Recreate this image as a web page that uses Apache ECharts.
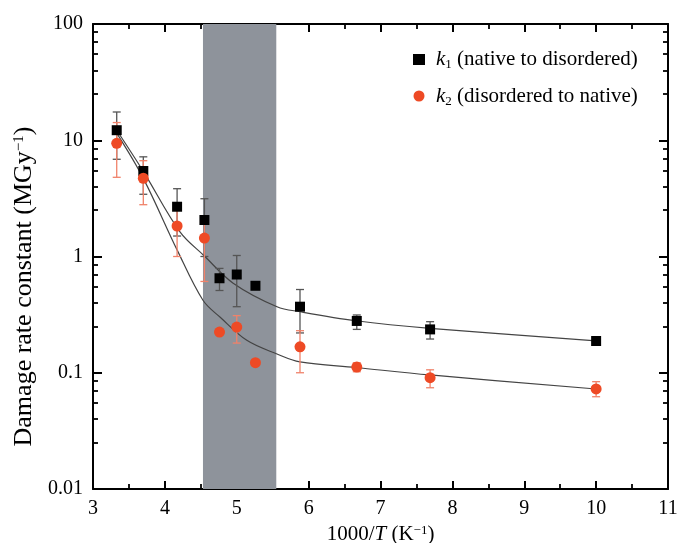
<!DOCTYPE html>
<html>
<head>
<meta charset="utf-8">
<script src="https://cdn.jsdelivr.net/npm/echarts@6.0.0/dist/echarts.min.js"></script>
<style>
html, body { margin: 0; padding: 0; background: #fff; }
#chart { width: 680px; height: 543px; }
</style>
</head>
<body>
<div id="chart"></div>
<script>
// tick labels
const xTicks = ['3', '4', '5', '6', '7', '8', '9', '10', '11'];
const yTicks = ['0.01', '0.1', '1', '10', '100'];

// 1000/T values of the measurements
const tempX = [3.33, 3.70, 4.17, 4.55, 4.76, 5.00, 5.26, 5.88, 6.67, 7.69, 10.0];

// k1 (native to disordered)
const k1Val = [12.2, 5.44, 2.68, 2.06, 0.65, 0.70, 0.56, 0.37, 0.279, 0.236, 0.1875];
const k1Low = [6.86, 3.43, 1.5, 1.0, 0.51, 0.37, null, 0.22, 0.236, 0.195, null];
const k1High = [17.5, 7.2, 3.83, 3.14, 0.79, 1.02, null, 0.52, 0.314, 0.275, null];

// k2 (disordered to native)
const k2Val = [9.41, 4.71, 1.83, 1.44, 0.224, 0.247, 0.122, 0.167, 0.112, 0.0907, 0.0725];
const k2Low = [4.8, 2.79, 1.0, 0.61, null, 0.18, null, 0.10, 0.102, 0.0743, 0.0622];
const k2High = [14.2, 6.67, 2.7, 2.1, null, 0.31, null, 0.23, 0.122, 0.106, 0.0838];

// fitted curves
const fit1X = [3.33, 3.70, 4.21, 4.55, 4.95, 5.56, 5.88, 6.66, 7.69, 10.0];
const fit1Y = [12.2, 5.4, 1.63, 1.01, 0.59, 0.37, 0.335, 0.28, 0.241, 0.188];
const fit2X = [3.33, 3.70, 4.17, 4.53, 4.77, 5.14, 5.56, 5.88, 6.66, 7.69, 10.0];
const fit2Y = [11.5, 4.7, 1.14, 0.42, 0.30, 0.19, 0.145, 0.124, 0.111, 0.0957, 0.0725];

// shaded transition region
const bandX = [4.53, 5.55];

const serif = 'Liberation Serif';
const red = '#ee4a25';

let chart = echarts.init(document.getElementById('chart'));

const zip = (xs, ys) => xs.map((x, i) => [x, ys[i]]);
const bars = (lo, hi) => tempX.map((x, i) => [x, lo[i], hi[i]]).filter(d => d[1] != null);

function errorBar(color) {
    return (params, api) => {
        const x = api.value(0);
        const lo = api.coord([x, api.value(1)]);
        const hi = api.coord([x, api.value(2)]);
        const w = 4;
        const st = { stroke: color, lineWidth: 1.3 };
        return {
            type: 'group',
            children: [
                { type: 'line', shape: { x1: lo[0], y1: lo[1], x2: hi[0], y2: hi[1] }, style: st },
                { type: 'line', shape: { x1: hi[0] - w, y1: hi[1], x2: hi[0] + w, y2: hi[1] }, style: st },
                { type: 'line', shape: { x1: lo[0] - w, y1: lo[1], x2: lo[0] + w, y2: lo[1] }, style: st }
            ]
        };
    };
}

const yLabel = v => yTicks.find(t => Math.abs(Math.log10(+t) - Math.log10(v)) < 1e-6) || '';

const xBase = {
    type: 'value', min: 3, max: 11, interval: 1,
    axisLine: { lineStyle: { color: '#000', width: 2 } },
    axisTick: { inside: true, length: 8, lineStyle: { color: '#000', width: 2 } },
    minorTick: { show: true, splitNumber: 2, length: 5, lineStyle: { color: '#000', width: 1.8 } },
    splitLine: { show: false }
};
const yBase = {
    type: 'log', logBase: 10, min: 0.01, max: 100,
    axisLine: { lineStyle: { color: '#000', width: 2 } },
    axisTick: { inside: true, length: 9, lineStyle: { color: '#000', width: 2 } },
    minorTick: { show: true, splitNumber: 6, length: 5, lineStyle: { color: '#000', width: 1.8 } },
    splitLine: { show: false }
};

let option = {
    animation: false,
    backgroundColor: '#fff',
    grid: { left: 93, right: 12, top: 24, bottom: 54, containLabel: false, outerBoundsMode: 'none' },
    legend: {
        orient: 'vertical',
        left: 408, top: 44,
        itemGap: 14,
        itemWidth: 12, itemHeight: 11,
        data: ['k1', 'k2'],
        formatter: name => name === 'k1'
            ? '{i|k}{s|1} (native to disordered)'
            : '{i|k}{s|2} (disordered to native)',
        textStyle: {
            fontFamily: serif, fontSize: 21, color: '#000', padding: [0, 0, 0, 6],
            rich: {
                i: { fontFamily: serif, fontStyle: 'italic', fontSize: 21, color: '#000', lineHeight: 24 },
                s: { fontFamily: serif, fontSize: 13, color: '#000', verticalAlign: 'bottom', lineHeight: 15 }
            }
        }
    },
    xAxis: [
        Object.assign({}, xBase, {
            position: 'bottom',
            axisLabel: {
                fontFamily: serif, fontSize: 20, color: '#000', margin: 10,
                formatter: v => xTicks[Math.round(v - 3)] || ''
            },
            name: '1000/{i|T} (K{sup|\u22121})',
            nameLocation: 'middle', nameGap: 33,
            nameTextStyle: {
                fontFamily: serif, fontSize: 21, color: '#000',
                rich: {
                    i: { fontFamily: serif, fontStyle: 'italic', fontSize: 21, color: '#000' },
                    sup: { fontFamily: serif, fontSize: 13, color: '#000', verticalAlign: 'top' }
                }
            }
        }),
        Object.assign({}, xBase, { position: 'top', axisLabel: { show: false } })
    ],
    yAxis: [
        Object.assign({}, yBase, {
            position: 'left',
            axisLabel: { fontFamily: serif, fontSize: 20, color: '#000', margin: 10, formatter: yLabel },
            name: 'Damage rate constant (MGy{sup|\u22121})',
            nameLocation: 'middle', nameGap: 54,
            nameTextStyle: {
                fontFamily: serif, fontSize: 26, color: '#000', padding: [0, 60, 0, 0],
                rich: {
                    sup: { fontFamily: serif, fontSize: 15, color: '#000', verticalAlign: 'top' }
                }
            }
        }),
        Object.assign({}, yBase, { position: 'right', axisLabel: { show: false } })
    ],
    series: [
        {
            name: 'band', type: 'line', data: [], z: 1,
            markArea: {
                silent: true,
                itemStyle: { color: '#8e939b', opacity: 1 },
                data: [[{ xAxis: bandX[0] }, { xAxis: bandX[1] }]]
            }
        },
        {
            name: 'fit1', type: 'line', data: zip(fit1X, fit1Y), smooth: 0.35,
            showSymbol: false, lineStyle: { color: '#444', width: 1.2 }, z: 2
        },
        {
            name: 'fit2', type: 'line', data: zip(fit2X, fit2Y), smooth: 0.35,
            showSymbol: false, lineStyle: { color: '#444', width: 1.2 }, z: 2
        },
        {
            name: 'err1', type: 'custom', renderItem: errorBar('#555'), data: bars(k1Low, k1High),
            encode: { x: 0, y: [1, 2] }, z: 3
        },
        {
            name: 'err2', type: 'custom', renderItem: errorBar('#f0826a'), data: bars(k2Low, k2High),
            encode: { x: 0, y: [1, 2] }, z: 3
        },
        {
            name: 'k1', type: 'scatter', data: zip(tempX, k1Val), symbol: 'rect', symbolSize: 10,
            itemStyle: { color: '#000', opacity: 1 }, z: 4
        },
        {
            name: 'k2', type: 'scatter', data: zip(tempX, k2Val), symbol: 'circle', symbolSize: 11,
            itemStyle: { color: red, opacity: 1 }, z: 5
        }
    ]
};

chart.setOption(option);
</script>
</body>
</html>
